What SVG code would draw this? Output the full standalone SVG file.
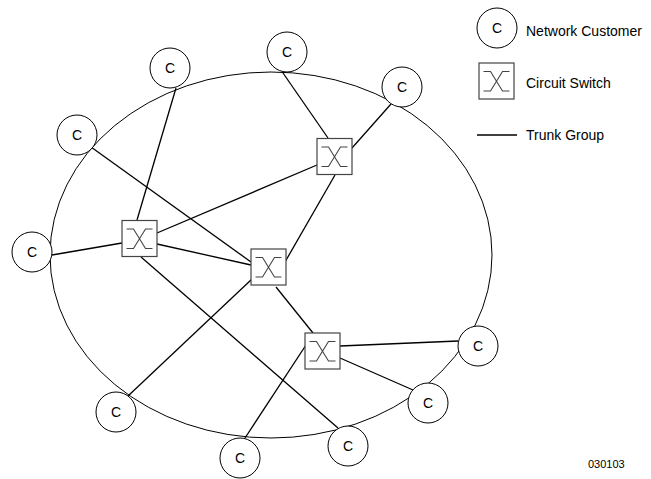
<svg xmlns="http://www.w3.org/2000/svg" width="651" height="479" viewBox="0 0 651 479">
<defs>
<style>
.c{fill:#fff;stroke:#000;stroke-width:1}
.s{fill:#fff;stroke:#444;stroke-width:1.2}
.x{fill:none;stroke:#444;stroke-width:1.1}
.t{font-family:"Liberation Sans",Arial,sans-serif;font-size:14px;fill:#000}
.m{text-anchor:middle}
.l{stroke:#000;stroke-width:1.3;fill:none}
</style>
<g id="sw">
<rect class="s" x="-17.5" y="-18" width="35" height="36"/>
<path class="x" d="M-13,-9.5 H-6 L6,10 H13 M13,-9.5 H6 L-6,10 H-13"/>
</g>
</defs>
<rect width="651" height="479" fill="#fff"/>
<ellipse id="ring" cx="271" cy="255" rx="221" ry="183" fill="none" stroke="#000" stroke-width="1"/>
<g id="connectors">
<line class="l" x1="137" y1="220" x2="176" y2="88"/>
<line class="l" x1="122" y1="243" x2="52" y2="255"/>
<line class="l" x1="157" y1="233" x2="317" y2="165"/>
<line class="l" x1="157" y1="244" x2="251" y2="265"/>
<line class="l" x1="141" y1="257" x2="338" y2="428"/>
<line class="l" x1="91" y1="147" x2="251" y2="262"/>
<line class="l" x1="252" y1="279" x2="128" y2="396"/>
<line class="l" x1="285" y1="262" x2="335" y2="175"/>
<line class="l" x1="276" y1="287" x2="313" y2="333"/>
<line class="l" x1="283" y1="73" x2="328" y2="138"/>
<line class="l" x1="391" y1="104" x2="352" y2="148"/>
<line class="l" x1="340" y1="346" x2="458" y2="341"/>
<line class="l" x1="340" y1="358" x2="413" y2="390"/>
<line class="l" x1="306" y1="345" x2="245" y2="438"/>
</g>
<g id="c1"><circle class="c" cx="170" cy="68" r="20"/><text class="t m" x="170" y="73">C</text></g>
<g id="c2"><circle class="c" cx="77" cy="135" r="20"/><text class="t m" x="77" y="140">C</text></g>
<g id="c3"><circle class="c" cx="32" cy="252" r="20"/><text class="t m" x="32" y="257">C</text></g>
<g id="c4"><circle class="c" cx="287" cy="52" r="20"/><text class="t m" x="287" y="57">C</text></g>
<g id="c5"><circle class="c" cx="402" cy="87" r="20"/><text class="t m" x="402" y="92">C</text></g>
<g id="c6"><circle class="c" cx="478" cy="346" r="20"/><text class="t m" x="478" y="351">C</text></g>
<g id="c7"><circle class="c" cx="428" cy="403" r="20"/><text class="t m" x="428" y="408">C</text></g>
<g id="c8"><circle class="c" cx="116" cy="412" r="20"/><text class="t m" x="116" y="417">C</text></g>
<g id="c9"><circle class="c" cx="240" cy="458" r="20"/><text class="t m" x="240" y="463">C</text></g>
<g id="c10"><circle class="c" cx="348" cy="446" r="20"/><text class="t m" x="348" y="451">C</text></g>
<g id="s1"><use href="#sw" x="139.5" y="238.5"/></g>
<g id="s2"><use href="#sw" x="268.5" y="267"/></g>
<g id="s3"><use href="#sw" x="322.5" y="351"/></g>
<g id="s4"><use href="#sw" x="334.5" y="156.5"/></g>
<g id="legend">
<circle class="c" cx="497" cy="28" r="20"/><text class="t m" x="497" y="33">C</text>
<text class="t" x="526" y="36">Network Customer</text>
<use href="#sw" x="496.5" y="81"/>
<text class="t" x="526" y="88">Circuit Switch</text>
<line class="l" x1="477" y1="135" x2="517" y2="135"/>
<text class="t" x="526" y="140">Trunk Group</text>
</g>
<text class="t" x="588" y="468" style="font-size:11px">030103</text>
</svg>
